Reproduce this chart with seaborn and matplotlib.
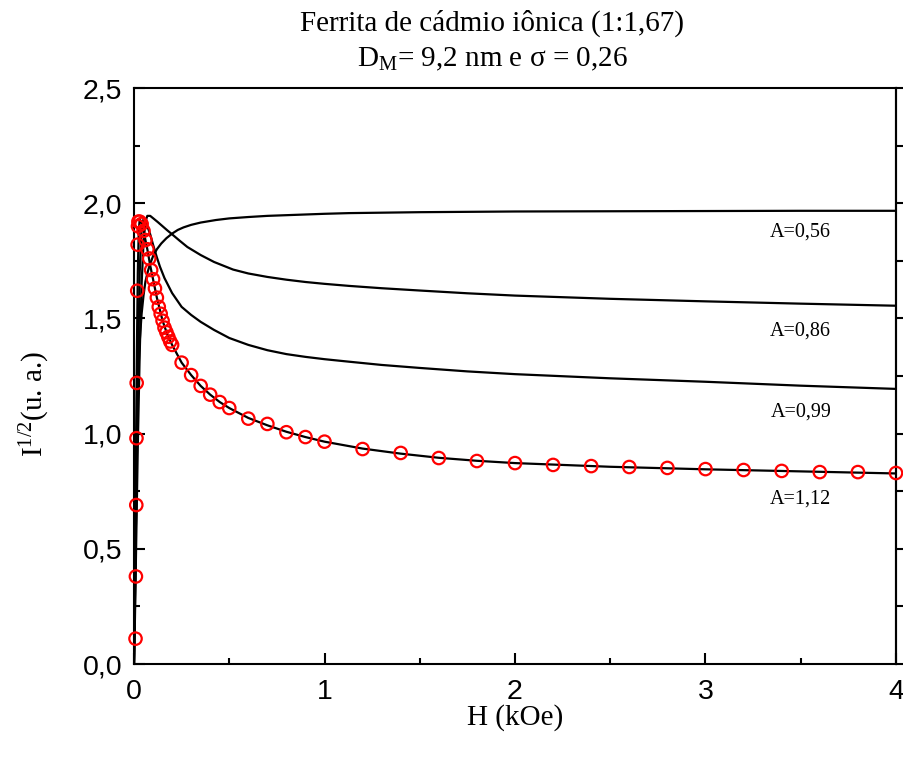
import matplotlib
matplotlib.use("Agg")
import matplotlib.pyplot as plt
import seaborn as sns
import pandas as pd
from matplotlib.ticker import MultipleLocator, FuncFormatter, NullFormatter

# ---- data ----
H_circ = [0.008, 0.010, 0.012, 0.013, 0.014, 0.017, 0.019, 0.021, 0.023,
          0.03, 0.04, 0.05, 0.06, 0.07, 0.08, 0.09, 0.10, 0.11, 0.12, 0.13, 0.14,
          0.15, 0.16, 0.17, 0.18, 0.19, 0.20,
          0.25, 0.30, 0.35, 0.40, 0.45, 0.50, 0.6, 0.7, 0.8, 0.9, 1.0,
          1.2, 1.4, 1.6, 1.8, 2.0, 2.2, 2.4, 2.6, 2.8, 3.0, 3.2, 3.4, 3.6, 3.8, 4.0]
I_circ = [0.11, 0.38, 0.69, 0.98, 1.22, 1.62, 1.82, 1.90, 1.92,
          1.92, 1.91, 1.88, 1.84, 1.80, 1.76, 1.71, 1.67, 1.63, 1.59, 1.55, 1.52,
          1.49, 1.46, 1.44, 1.42, 1.40, 1.385,
          1.308, 1.254, 1.207, 1.169, 1.137, 1.111, 1.065, 1.042, 1.006, 0.985, 0.965,
          0.933, 0.916, 0.894, 0.881, 0.872, 0.864, 0.859, 0.855, 0.851, 0.846, 0.842,
          0.838, 0.833, 0.833, 0.829]

H_112 = [0, 0.005, 0.01, 0.015, 0.02, 0.025, 0.03, 0.04, 0.05, 0.06, 0.07, 0.085,
         0.1, 0.12, 0.15, 0.175, 0.2, 0.25, 0.3, 0.35, 0.4, 0.45, 0.5, 0.6, 0.7,
         0.8, 0.9, 1.0, 1.2, 1.4, 1.6, 1.8, 2.0, 2.5, 3.0, 3.5, 4.0]
I_112 = [0, 0.35, 0.9, 1.35, 1.7, 1.88, 1.93, 1.915, 1.88, 1.84, 1.80, 1.73,
         1.67, 1.59, 1.49, 1.43, 1.385, 1.308, 1.254, 1.207, 1.169, 1.137, 1.111,
         1.068, 1.036, 1.008, 0.985, 0.965, 0.935, 0.913, 0.895, 0.882, 0.872,
         0.856, 0.845, 0.836, 0.827]

H_099 = [0, 0.005, 0.01, 0.02, 0.03, 0.04, 0.05, 0.06, 0.07, 0.085, 0.1, 0.12,
         0.136, 0.16, 0.2, 0.25, 0.3, 0.35, 0.42, 0.5, 0.6, 0.7, 0.8, 0.9, 1.0,
         1.13, 1.3, 1.5, 1.75, 2.0, 2.5, 3.0, 3.5, 4.0]
I_099 = [0, 0.25, 0.6, 1.25, 1.7, 1.9, 1.93, 1.925, 1.90, 1.865, 1.82, 1.765,
         1.725, 1.675, 1.61, 1.55, 1.515, 1.485, 1.45, 1.415, 1.385, 1.362, 1.345,
         1.333, 1.323, 1.312, 1.298, 1.285, 1.27, 1.258, 1.24, 1.225, 1.208, 1.194]

H_086 = [0, 0.005, 0.01, 0.02, 0.03, 0.04, 0.05, 0.06, 0.07, 0.085, 0.1, 0.125,
         0.15, 0.175, 0.2, 0.24, 0.28, 0.35, 0.42, 0.52, 0.6, 0.7, 0.8, 0.9, 1.0,
         1.13, 1.3, 1.5, 1.75, 2.0, 2.5, 3.0, 3.5, 4.0]
I_086 = [0, 0.2, 0.45, 0.95, 1.35, 1.65, 1.83, 1.92, 1.945, 1.945, 1.935, 1.918,
         1.90, 1.882, 1.865, 1.837, 1.81, 1.775, 1.745, 1.712, 1.695, 1.68, 1.668,
         1.658, 1.65, 1.641, 1.631, 1.621, 1.609, 1.599, 1.585, 1.574, 1.564, 1.555]

H_056 = [0, 0.005, 0.01, 0.015, 0.02, 0.025, 0.03, 0.04, 0.05, 0.06, 0.073, 0.084,
         0.1, 0.12, 0.143, 0.17, 0.2, 0.23, 0.26, 0.3, 0.35, 0.43, 0.5, 0.6, 0.7,
         0.8, 1.0, 1.13, 1.5, 2.0, 2.5, 3.0, 3.5, 4.0]
I_056 = [0, 0.3, 0.6, 0.9, 1.15, 1.3, 1.4, 1.52, 1.6, 1.66, 1.705, 1.735,
         1.77, 1.80, 1.825, 1.848, 1.868, 1.884, 1.895, 1.906, 1.916, 1.927, 1.934,
         1.940, 1.945, 1.948, 1.954, 1.957, 1.961, 1.964, 1.965, 1.966, 1.967, 1.967]

curve_labels = ["A=0,56", "A=0,86", "A=0,99", "A=1,12"]
label_H = [3.50, 3.50, 3.50, 3.50]
label_I = [1.875, 1.446, 1.092, 0.716]

x_ticks = [0, 1, 2, 3, 4]
y_ticks = [0.0, 0.5, 1.0, 1.5, 2.0, 2.5]

# ---- styling ----
sns.set_style("white")
plt.rcParams['font.family'] = ['Liberation Sans', 'DejaVu Sans']
plt.rcParams['mathtext.fontset'] = 'custom'
plt.rcParams['mathtext.rm'] = 'Liberation Serif'
plt.rcParams['mathtext.it'] = 'Liberation Serif:italic'
for k in ['text.color', 'axes.labelcolor', 'xtick.color', 'ytick.color',
          'axes.edgecolor']:
    plt.rcParams[k] = 'black'
serif = ['Liberation Serif', 'DejaVu Serif']

fig = plt.figure(figsize=(9.04, 7.62), dpi=100)
ax = fig.add_axes([134/904, 1-664/762, (896-134)/904, (664-88)/762])

curves = [(H_056, I_056), (H_086, I_086), (H_099, I_099), (H_112, I_112)]
for lab, (hh, ii) in zip(curve_labels, curves):
    df = pd.DataFrame({"H": hh, "I": ii})
    sns.lineplot(data=df, x="H", y="I", ax=ax, color="black", lw=1.6,
                 sort=False, estimator=None)

dfc = pd.DataFrame({"H": H_circ, "I": I_circ})
sns.scatterplot(data=dfc, x="H", y="I", ax=ax, marker="o", s=80,
                facecolor="none", edgecolor="red", linewidth=1.6,
                clip_on=False, zorder=5)

for t, hx, iy in zip(curve_labels, label_H, label_I):
    ax.text(hx, iy, t, ha="center", va="center", fontsize=14.5, family=serif,
            color="black")

ax.set_xlim(0, 4)
ax.set_ylim(0, 2.5)
ax.set_xticks(x_ticks)
ax.set_yticks(y_ticks)
ax.xaxis.set_minor_locator(MultipleLocator(0.5))
ax.yaxis.set_minor_locator(MultipleLocator(0.25))
ax.yaxis.set_major_formatter(FuncFormatter(lambda v, p: f"{v:.1f}".replace(".", ",")))
ax.xaxis.set_major_formatter(FuncFormatter(lambda v, p: f"{v:.0f}"))

for s in ax.spines.values():
    s.set_linewidth(1.5)
    s.set_color("black")

ax.tick_params(axis="both", which="major", direction="in", length=8, width=1.5,
               labelsize=20.5, colors="black")
ax.tick_params(axis="both", which="minor", direction="in", length=4, width=1.5)
ax.tick_params(axis="x", which="both", bottom=True, top=False, pad=11)
ax.tick_params(axis="y", which="both", left=True, right=False, pad=8.5)

# right axis: outward ticks, no labels
sec = ax.secondary_yaxis('right')
sec.set_yticks(y_ticks)
sec.yaxis.set_minor_locator(MultipleLocator(0.25))
sec.yaxis.set_major_formatter(NullFormatter())
sec.tick_params(which="both", direction="out", length=5, width=1.5, colors="black")
sec.spines['right'].set_linewidth(1.5)

ax.set_xlabel("H (kOe)", fontsize=21, family=serif, va="top")
ax.xaxis.set_label_coords(0.5, -0.069)
ax.set_ylabel(r"I$^{\mathregular{1/2}}$(u. a.)", fontsize=21, family=serif)
ax.yaxis.set_label_coords(-0.108, 0.451)

fig.text(492/904, 1-30.7/762, "Ferrita de cádmio iônica (1:1,67)", ha="center",
         va="baseline", fontsize=21, family=serif, color="black")
fig.text(492/904, 1-66.7/762, r"D$_\mathregular{M}$= 9,2 nm e σ = 0,26", ha="center",
         va="baseline", fontsize=21, family=serif, color="black")

fig.savefig("out.png", dpi=100)
